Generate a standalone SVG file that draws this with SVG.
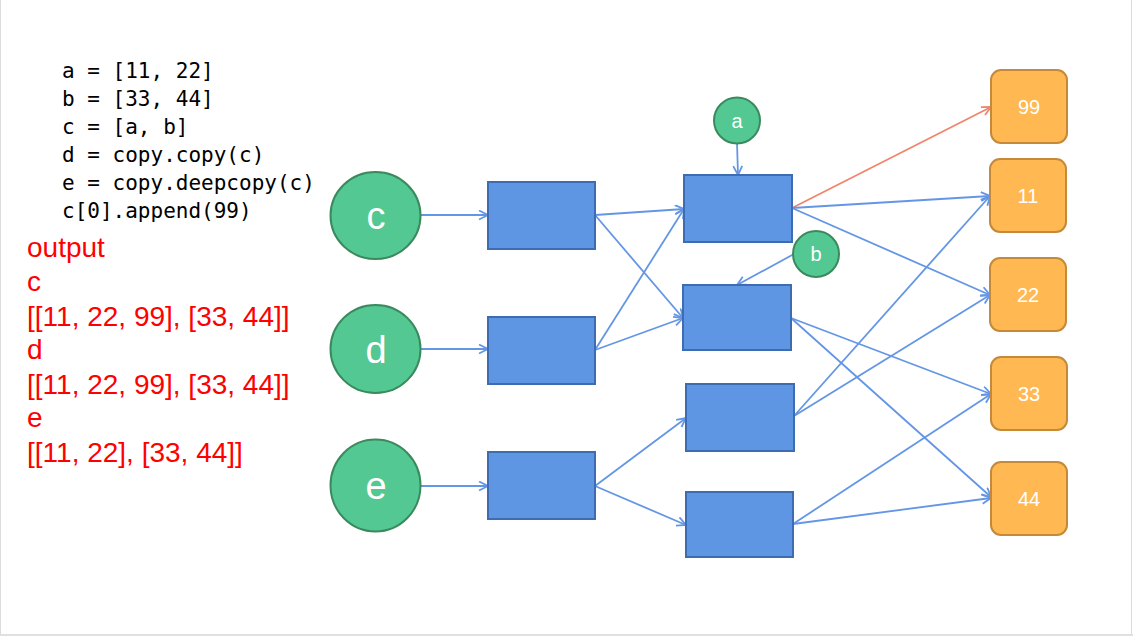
<svg xmlns="http://www.w3.org/2000/svg" width="1133" height="636" viewBox="0 0 1133 636">
<style>
.code{font-family:"DejaVu Sans Mono","Liberation Mono",monospace;font-size:21px;fill:#000}
.out{font-family:"Liberation Sans",Arial,sans-serif;font-size:28px;fill:#ff0000}
.var{fill:#53c892;stroke:#3a8a5e;stroke-width:2}
.box{fill:#5e96e3;stroke:#3d6cb0;stroke-width:2}
.val{fill:#ffb852;stroke:#c48a3a;stroke-width:2}
.lbl{font-family:"Liberation Sans",Arial,sans-serif;fill:#fff;text-anchor:middle}
.big{font-size:38px}
.sm{font-size:20px}
.edge{fill:none;stroke:#6496e6;stroke-width:1.8;marker-end:url(#ah)}
.edge2{fill:none;stroke:#f0856e;stroke-width:1.8;marker-end:url(#ah2)}
</style>
<defs>
<marker id="ah" markerWidth="12" markerHeight="12" refX="10" refY="5" orient="auto" markerUnits="userSpaceOnUse" viewBox="0 0 12 12">
<path d="M1,0.5 L10,5 L1,9.5" fill="none" stroke="#6496e6" stroke-width="1.8"/>
</marker>
<marker id="ah2" markerWidth="12" markerHeight="12" refX="10" refY="5" orient="auto" markerUnits="userSpaceOnUse" viewBox="0 0 12 12">
<path d="M1,0.5 L10,5 L1,9.5" fill="none" stroke="#f0856e" stroke-width="1.8"/>
</marker>
</defs>
<rect x="0" y="0" width="1133" height="636" fill="#fff"/>
<line x1="0.5" y1="0" x2="0.5" y2="636" stroke="#dcdcdc"/>
<line x1="1131.5" y1="0" x2="1131.5" y2="636" stroke="#dcdcdc"/>
<rect x="0" y="634" width="1133" height="2" fill="#e0e0e0"/>

<g id="code">
<text class="code" x="62" y="78">a = [11, 22]</text>
<text class="code" x="62" y="106">b = [33, 44]</text>
<text class="code" x="62" y="134">c = [a, b]</text>
<text class="code" x="62" y="162">d = copy.copy(c)</text>
<text class="code" x="62" y="190">e = copy.deepcopy(c)</text>
<text class="code" x="62" y="218">c[0].append(99)</text>
</g>
<g id="output">
<text class="out" x="27" y="257">output</text>
<text class="out" x="27" y="291">c</text>
<text class="out" x="27" y="326">[[11, 22, 99], [33, 44]]</text>
<text class="out" x="27" y="359">d</text>
<text class="out" x="27" y="394">[[11, 22, 99], [33, 44]]</text>
<text class="out" x="27" y="427">e</text>
<text class="out" x="27" y="462">[[11, 22], [33, 44]]</text>
</g>

<g id="connectors">
<line class="edge" x1="421" y1="215" x2="488" y2="215"/>
<line class="edge" x1="421" y1="349" x2="488" y2="349"/>
<line class="edge" x1="421" y1="486" x2="488" y2="486"/>
<line class="edge" x1="595" y1="215" x2="684" y2="209"/>
<line class="edge" x1="595" y1="215" x2="683" y2="318"/>
<line class="edge" x1="595" y1="350" x2="684" y2="209"/>
<line class="edge" x1="595" y1="350" x2="683" y2="318"/>
<line class="edge" x1="595" y1="486" x2="686" y2="418"/>
<line class="edge" x1="595" y1="486" x2="686" y2="525"/>
<line class="edge" x1="737" y1="143" x2="738" y2="175"/>
<line class="edge" x1="794" y1="254" x2="737" y2="285"/>
<line class="edge2" x1="792" y1="208" x2="991" y2="107"/>
<line class="edge" x1="792" y1="208" x2="990" y2="196"/>
<line class="edge" x1="792" y1="208" x2="990" y2="295"/>
<line class="edge" x1="791" y1="318" x2="991" y2="394"/>
<line class="edge" x1="791" y1="318" x2="991" y2="497"/>
<line class="edge" x1="794" y1="416" x2="990" y2="196"/>
<line class="edge" x1="794" y1="416" x2="990" y2="295"/>
<line class="edge" x1="793" y1="524" x2="991" y2="394"/>
<line class="edge" x1="793" y1="524" x2="991" y2="498"/>
</g>

<g id="var-c"><ellipse class="var" cx="375.5" cy="215.5" rx="45" ry="43.5"/><text class="lbl big" x="376" y="229">c</text></g>
<g id="var-d"><ellipse class="var" cx="375.5" cy="349" rx="45" ry="44"/><text class="lbl big" x="376" y="363">d</text></g>
<g id="var-e"><ellipse class="var" cx="375.5" cy="485.5" rx="45" ry="46"/><text class="lbl big" x="376" y="499">e</text></g>

<g id="list-c"><rect class="box" x="488" y="182" width="107" height="67"/></g>
<g id="list-d"><rect class="box" x="488" y="317" width="107" height="67"/></g>
<g id="list-e"><rect class="box" x="488" y="452" width="107" height="67"/></g>

<g id="list-a"><rect class="box" x="684" y="175" width="108" height="67"/></g>
<g id="list-b"><rect class="box" x="683" y="285" width="108" height="65"/></g>
<g id="list-e0"><rect class="box" x="686" y="384" width="108" height="67"/></g>
<g id="list-e1"><rect class="box" x="686" y="492" width="107" height="65"/></g>

<g id="var-a"><circle class="var" cx="737" cy="120.5" r="23"/><text class="lbl sm" x="737" y="128">a</text></g>
<g id="var-b"><circle class="var" cx="816" cy="254" r="23"/><text class="lbl sm" x="816" y="261">b</text></g>

<g id="v99"><rect class="val" x="991" y="70" width="76" height="73" rx="10"/><text class="lbl sm" x="1029" y="114">99</text></g>
<g id="v11"><rect class="val" x="990" y="159" width="76" height="73" rx="10"/><text class="lbl sm" x="1028" y="203">11</text></g>
<g id="v22"><rect class="val" x="990" y="258" width="76" height="73" rx="10"/><text class="lbl sm" x="1028" y="302">22</text></g>
<g id="v33"><rect class="val" x="991" y="357" width="76" height="73" rx="10"/><text class="lbl sm" x="1029" y="401">33</text></g>
<g id="v44"><rect class="val" x="991" y="462" width="76" height="73" rx="10"/><text class="lbl sm" x="1029" y="506">44</text></g>
</svg>
